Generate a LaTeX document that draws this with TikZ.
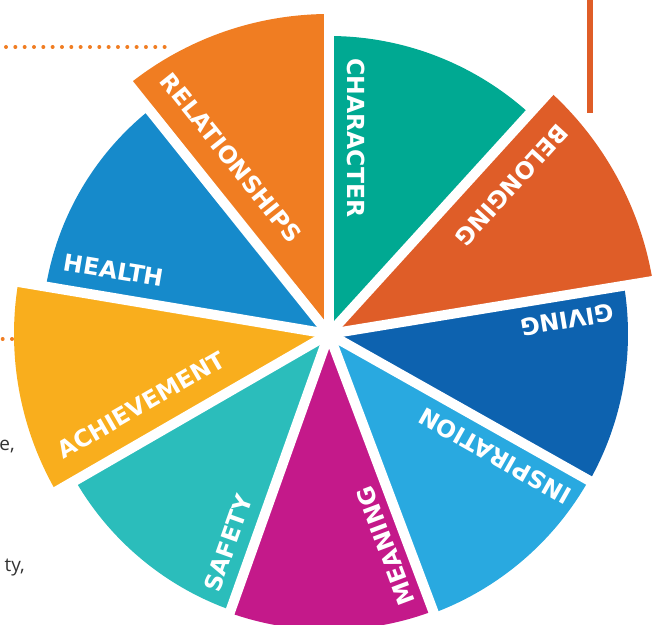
\documentclass[tikz,border=0pt]{standalone}
\usepackage{fontspec}
\newfontfamily\labelfont{DejaVu Sans}
\newfontfamily\bodyfont{Open Sans}

\definecolor{cCharacter}{RGB}{0,169,146}
\definecolor{cBelonging}{RGB}{223,93,40}
\definecolor{cGiving}{RGB}{13,98,175}
\definecolor{cInspiration}{RGB}{41,169,224}
\definecolor{cMeaning}{RGB}{196,25,138}
\definecolor{cSafety}{RGB}{43,189,187}
\definecolor{cAchievement}{RGB}{249,174,29}
\definecolor{cHealth}{RGB}{22,138,203}
\definecolor{cRelationships}{RGB}{240,125,34}
\definecolor{cBody}{RGB}{51,51,51}

% one sector of the wheel: colour, start angle, end angle, radius
\newcommand\petal[4]{\fill[#1] (0,0) -- (#2:#4) arc[start angle=#2, end angle=#3, radius=#4] -- cycle;}

\tikzset{
  lab/.style={font=\labelfont\bfseries\fontsize{23.5}{24}\selectfont, text=white, inner sep=0pt},
  gap/.style={white, line width=10pt},
  dots/.style={cRelationships, line width=4pt, line cap=round, dash pattern=on 0pt off 9.33pt},
  body/.style={font=\bodyfont\fontsize{19}{22}\selectfont, text=cBody, inner sep=0pt, anchor=base east}
}

\begin{document}
\begin{tikzpicture}[x=1pt,y=1pt]
% origin at the hub of the wheel
\useasboundingbox (-329,-290) rectangle (334,334);

% sectors
\petal{cCharacter}{90}{47.7}{298}
\petal{cBelonging}{47.7}{9.3}{328}
\petal{cGiving}{9.3}{-29.4}{299}
\petal{cInspiration}{-29.4}{-69.4}{298}
\petal{cMeaning}{-69.4}{-109.6}{296}
\petal{cSafety}{-109.6}{-150}{293}
\petal{cAchievement}{-150}{-189.5}{315}
\petal{cHealth}{170.5}{128.7}{287}
\petal{cRelationships}{128.7}{90}{320}

% white spokes separating the sectors
\coordinate (hub) at (0,0);
\foreach \a/\r in {90/330, 47.7/335, 9.3/335, -29.4/305, -69.4/305, -109.6/305, -150/320, 170.5/320, 128.7/325}
  \draw[gap] (hub) -- (\a:\r);

% sector labels
\node[lab, rotate=-90]    (character)     at (27.5,196)  {CHARACTER};
\node[lab, rotate=-132.3] (belonging)     at (183,149)   {BELONGING};
\node[lab, rotate=-170.7] (giving)        at (238,14)    {GIVING};
\node[lab, rotate=150.6]  (inspiration)   at (166,-122)  {INSPIRATION};
\node[lab, rotate=110.6]  (meaning)       at (57,-212)   {MEANING};
\node[lab, rotate=70.4]   (safety)        at (-101,-209) {SAFETY};
\node[lab, rotate=30]     (achievement)   at (-188,-71)  {ACHIEVEMENT};
\node[lab, rotate=-9.5]   (health)        at (-215,64)   {HEALTH};
\node[lab, rotate=-51.3]  (relationships) at (-98,176)   {RELATIONSHIPS};

% dotted leaders on the left
\coordinate (topdotA) at (-323,287);
\coordinate (topdotB) at (-163.5,287);
\draw[dots] (topdotA) -- (topdotB);
\coordinate (middotA) at (-326.3,-5);
\coordinate (middotB) at (-316.5,-5);
\draw[dots] (middotA) -- (middotB);

% vertical bar at the top right
\fill[cBelonging] (258,334) rectangle (264,221);

% clipped body text at the left margin
\node[body] (bodyA) at (-314,-116) {e,};
\node[body] (bodyB) at (-304,-237) {ty,};
\end{tikzpicture}
\end{document}
